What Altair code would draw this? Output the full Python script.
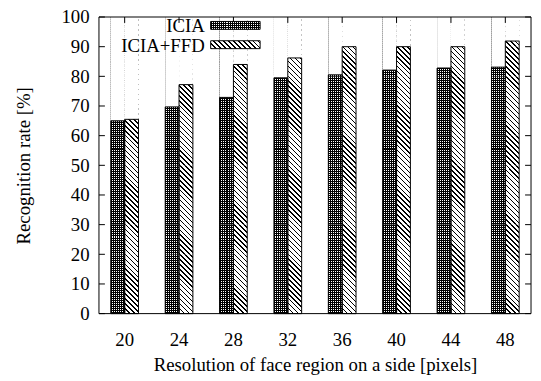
import math
import altair as alt
import pandas as pd

# ---------------- data ----------------
RES = ["20", "24", "28", "32", "36", "40", "44", "48"]
ICIA = [65.0, 69.7, 72.9, 79.5, 80.5, 82.1, 82.8, 83.1]
ICIA_FFD = [65.5, 77.2, 84.0, 86.2, 90.0, 90.0, 90.0, 91.9]
SERIES = ["ICIA", "ICIA+FFD"]
Y_TICKS = [0, 10, 20, 30, 40, 50, 60, 70, 80, 90, 100]

rows = []
for r, a, b in zip(RES, ICIA, ICIA_FFD):
    rows.append({"res": r, "series": SERIES[0], "value": a})
    rows.append({"res": r, "series": SERIES[1], "value": b})
df = pd.DataFrame(rows)

# pattern tiles: each bar column is hatched in blocks between the y ticks
seg_rows = []
for r in RES:
    for s in SERIES:
        for lo, hi in zip(Y_TICKS[:-1], Y_TICKS[1:]):
            seg_rows.append({"res": r, "series": s, "lo": lo, "hi": hi})
seg_df = pd.DataFrame(seg_rows)

# ---------------- layout constants (whole-pixel bar edges) ----------------
N = len(RES)
STEP_PX, BAND_PX, OUTER_PX = 55, 28, 12
W = N * BAND_PX + (N - 1) * (STEP_PX - BAND_PX) + 2 * OUTER_PX
H = 300
P_IN = (STEP_PX - BAND_PX) / STEP_PX
P_OUT = OUTER_PX / STEP_PX
BAR_W = BAND_PX / 2
SEG_H = H / (len(Y_TICKS) - 1)
FONT = "Liberation Serif, Times New Roman, serif"
FS = 19


# ---------------- hatch patterns built from gradients ----------------
def _stops(n, frac, on, off):
    st = []
    k = 0
    while k / n < 1 - 1e-9:
        a = round(k / n, 6)
        b = round(min((k + frac) / n, 1), 6)
        c = round(min((k + 1) / n, 1), 6)
        st += [{"offset": a, "color": on}, {"offset": b, "color": on},
               {"offset": b, "color": off}, {"offset": c, "color": off}]
        k += 1
    return st


def diag(w, h, period, frac, on="black", off="white"):
    """'\\' stripes with perpendicular period `period` px on a w x h box."""
    n = (w + h) / math.sqrt(2) / period
    s = (w + h) / (w * w + h * h)
    return {"gradient": "linear", "x1": 0, "y1": 1, "x2": s * w, "y2": 1 - s * h,
            "stops": _stops(n, frac, on, off)}


def lines(span, period, frac, vertical_grad, on="black", off="white"):
    n = span / period
    return {"gradient": "linear", "x1": 0, "y1": 0,
            "x2": 0 if vertical_grad else 1, "y2": 1 if vertical_grad else 0,
            "stops": _stops(n, frac, on, off)}


CK = 2.0                                   # checker pitch (px)
DP = SEG_H / math.sqrt(2) / 6              # diagonal pitch so tiles join seamlessly
GRID_V = lines(BAR_W, CK, 0.5, False)
GRID_H = lines(SEG_H, CK, 0.5, True, off="transparent")
DIAG = diag(BAR_W, SEG_H, DP, 0.3)

LW, LH = 50, 8
LG_GRID_V = lines(LW, CK, 0.5, False)
LG_GRID_H = lines(LH, CK, 0.5, True, off="transparent")
LG_DIAG = diag(LW, LH, DP, 0.3)

# ---------------- encodings ----------------
X_AXIS = alt.Axis(title="Resolution of face region on a side [pixels]", labelAngle=0,
                  grid=False, gridOpacity=0, ticks=False, domain=False,
                  labelPadding=17, titleY=58, titleBaseline="alphabetic")
X = alt.X("res:N", sort=RES, scale=alt.Scale(paddingInner=P_IN, paddingOuter=P_OUT),
          axis=X_AXIS)
XO = alt.XOffset("series:N", sort=SERIES,
                 scale=alt.Scale(domain=SERIES, paddingInner=0, paddingOuter=0))
YSCALE = alt.Scale(domain=[0, 100], nice=False, zero=True)
Y_AXIS = alt.Axis(title="Recognition rate [%]", values=Y_TICKS, labelPadding=10,
                  grid=False, gridOpacity=0, ticks=False, domain=False,
                  labelOverlap=False,
                  titleAngle=270, titleX=-70, titleY=H / 2, titleAlign="center",
                  titleBaseline="alphabetic")
Y = alt.Y("value:Q", scale=YSCALE, axis=Y_AXIS)
Y_LO = alt.Y("lo:Q", scale=YSCALE, axis=Y_AXIS)

seg = alt.Chart(seg_df)
seg_icia = seg.transform_filter(alt.datum.series == SERIES[0])
seg_ffd = seg.transform_filter(alt.datum.series == SERIES[1])

pat1 = seg_icia.mark_bar(fill=GRID_V, strokeWidth=0).encode(
    x=X, xOffset=XO, y=Y_LO, y2="hi:Q")
pat2 = seg_icia.mark_bar(fill=GRID_H, strokeWidth=0).encode(
    x=X, xOffset=XO, y=Y_LO, y2="hi:Q")
pat3 = seg_ffd.mark_bar(fill=DIAG, strokeWidth=0).encode(
    x=X, xOffset=XO, y=Y_LO, y2="hi:Q")

base = alt.Chart(df)
cover = base.mark_bar(fill="white", strokeWidth=0).encode(
    x=X, xOffset=XO, y=Y, y2=alt.Y2Datum(100))

# white mask over the empty gaps between bar groups (hides hatch rendering residue)
xtick_df = pd.DataFrame({"res": RES})
gap_mask = alt.Chart(xtick_df).transform_filter(
    alt.datum.res != RES[-1]
).mark_rule(color="white", strokeWidth=22, xOffset=STEP_PX / 2).encode(
    x=X, y=alt.value(0), y2=alt.value(H))

outline = base.mark_bar(fill="white", fillOpacity=0, stroke="black", strokeWidth=1).encode(
    x=X, xOffset=XO, y=Y)

ytick_df = pd.DataFrame({"value": Y_TICKS})
TL = 6
yt_l = alt.Chart(ytick_df).mark_rule(color="black").encode(
    y=Y, x=alt.value(0), x2=alt.value(TL))
yt_r = alt.Chart(ytick_df).mark_rule(color="black").encode(
    y=Y, x=alt.value(W - TL), x2=alt.value(W))
xt_b = alt.Chart(xtick_df).mark_rule(color="black").encode(
    x=X, y=alt.value(H - TL), y2=alt.value(H))
xt_t = alt.Chart(xtick_df).mark_rule(color="black").encode(
    x=X, y=alt.value(0), y2=alt.value(TL))

# ---------------- legend ----------------
one = alt.Data(values=[{}])
legend_layers = []
ROW_Y = [8.5, 28]
TX, SX = 107, 113
for i, name in enumerate(SERIES):
    ry = ROW_Y[i]
    legend_layers.append(
        alt.Chart(one).mark_text(text=name, align="right", baseline="middle", font=FONT,
                                 fontSize=FS, color="black")
        .encode(x=alt.value(TX), y=alt.value(ry + 1)))
    fills = [LG_GRID_V, LG_GRID_H] if i == 0 else [LG_DIAG]
    for f in fills:
        legend_layers.append(
            alt.Chart(one).mark_rect(fill=f, strokeWidth=0)
            .encode(x=alt.value(SX), x2=alt.value(SX + LW),
                    y=alt.value(ry - LH / 2), y2=alt.value(ry + LH / 2)))
    legend_layers.append(
        alt.Chart(one).mark_rect(fill="white", fillOpacity=0, stroke="black", strokeWidth=1)
        .encode(x=alt.value(SX), x2=alt.value(SX + LW),
                y=alt.value(ry - LH / 2), y2=alt.value(ry + LH / 2)))

frame = alt.Chart(one).mark_rect(fill="white", fillOpacity=0, stroke="black", strokeWidth=1).encode(
    x=alt.value(0), x2=alt.value(W), y=alt.value(0), y2=alt.value(H))

chart = alt.layer(
    pat1, pat2, pat3, cover, gap_mask, outline, yt_l, yt_r, xt_b, xt_t, *legend_layers, frame
).properties(
    width=W, height=H,
    padding={"left": 92, "top": 7, "right": 2, "bottom": 63},
    autosize=alt.AutoSizeParams(type="none"),
    background="white",
).configure_view(strokeWidth=0).configure_axis(
    domain=False, ticks=False, tickSize=0, grid=False, gridOpacity=0, labelOverlap=False,
    labelFont=FONT, labelFontSize=FS, labelColor="black",
    titleFont=FONT, titleFontSize=FS, titleFontWeight="normal", titleColor="black",
)

chart.save("out.html", embed_options={"renderer": "svg", "actions": False})
